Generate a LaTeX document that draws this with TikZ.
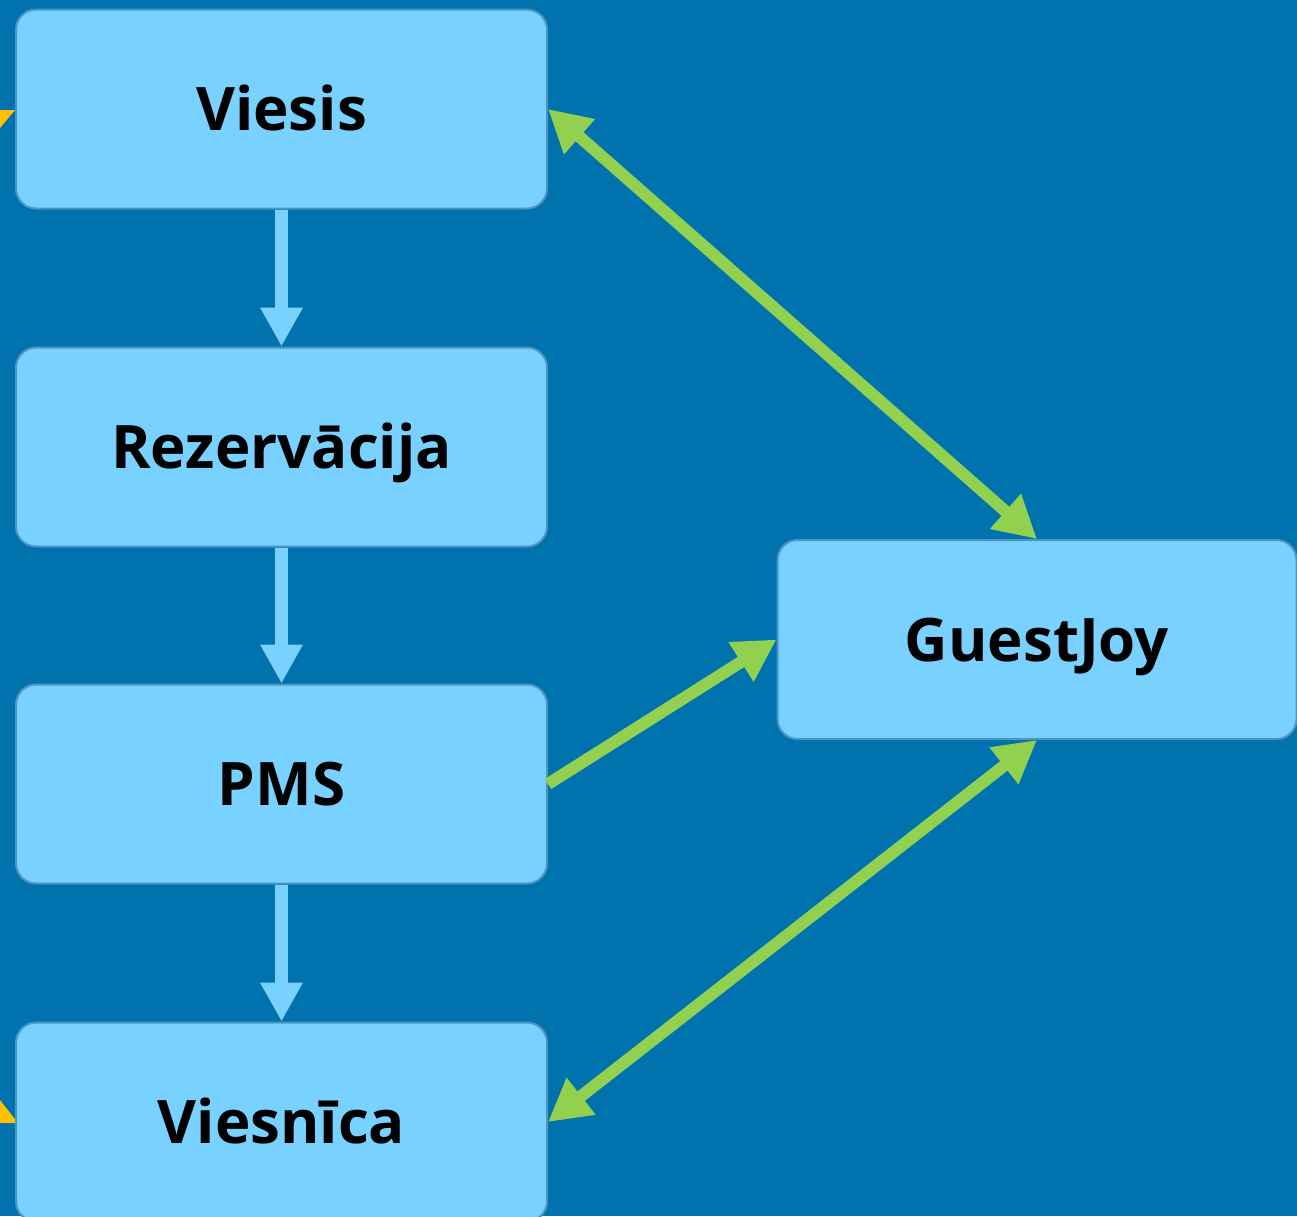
\documentclass[tikz,border=0pt]{standalone}
\usepackage{fontspec}
\setmainfont{Open Sans}
\usetikzlibrary{arrows.meta}
\definecolor{bg}{HTML}{0072AE}
\definecolor{boxfill}{HTML}{79D1FF}
\definecolor{boxline}{HTML}{4C94C2}
\definecolor{grn}{HTML}{92D050}
\definecolor{org}{HTML}{FFC000}
\tikzset{
  box/.style={draw=boxline, line width=2pt, fill=boxfill, rounded corners=20pt,
    minimum width=531pt, minimum height=199pt, inner sep=0pt,
    text height=43pt, text depth=0pt,
    font=\fontsize{60}{72}\selectfont\bfseries, text=black},
  bluearrow/.style={draw=boxfill, line width=13pt,
    -{Triangle[length=39pt,width=40pt]}},
  greenarrow/.style={draw=grn, line width=12pt,
    {Triangle[length=42pt,width=44pt]}-{Triangle[length=42pt,width=44pt]}},
  greenone/.style={draw=grn, line width=12pt,
    -{Triangle[length=42pt,width=44pt]}},
}
\begin{document}
\begin{tikzpicture}[x=1pt,y=-1pt]
\useasboundingbox (0,0) rectangle (1297,1216);
\clip (0,0) rectangle (1297,1216);
\fill[bg] (0,0) rectangle (1297,1216);
% partial orange arrowheads from outside the picture
\fill[org] (15,110) -- (-60,110) -- (-25,158) -- cycle;
\fill[org] (18,1123) -- (-60,1123) -- (-22,1072) -- cycle;
% boxes
\node[box] (viesis) at (281.5,109) {Viesis};
\node[box] (rez) at (281.5,447) {Rezervācija};
\node[box] (pms) at (281.5,784) {PMS};
\node[box] (viesnica) at (281.5,1122) {Viesnīca};
\node[box, minimum width=519pt] (gj) at (1037,639.5) {GuestJoy};
% blue arrows
\draw[bluearrow] (viesis.south) -- (rez.north);
\draw[bluearrow] (rez.south) -- (pms.north);
\draw[bluearrow] (pms.south) -- (viesnica.north);
% green arrows
\draw[greenarrow] (viesis.east) -- (gj.north);
\draw[greenone] (pms.east) -- (gj.west);
\draw[greenarrow] (gj.south) -- (viesnica.east);
\end{tikzpicture}
\end{document}
